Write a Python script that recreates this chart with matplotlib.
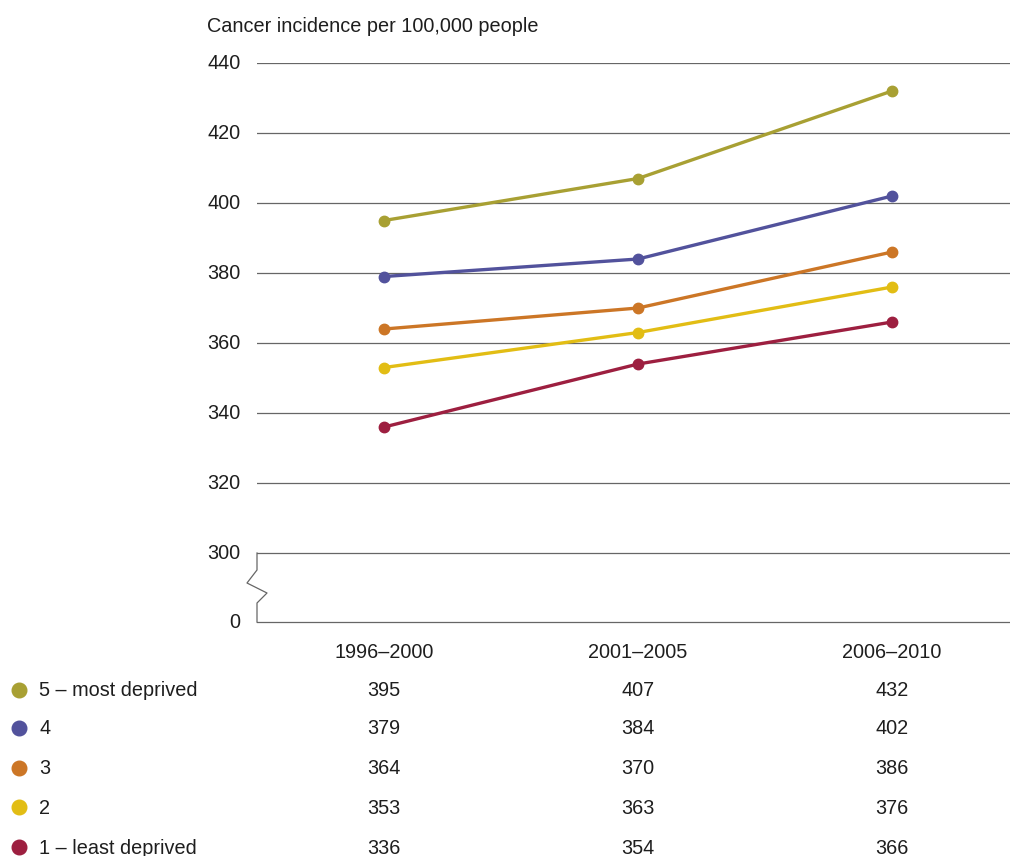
import matplotlib
matplotlib.use("Agg")
import matplotlib.pyplot as plt
from matplotlib.lines import Line2D
import matplotlib.transforms as mtransforms

plt.rcParams['font.family'] = ['Liberation Sans', 'DejaVu Sans']

periods = ["1996–2000", "2001–2005", "2006–2010"]
groups = ["5 – most deprived", "4", "3", "2", "1 – least deprived"]
colors = ["#a8a033", "#52529c", "#cc7626", "#e2bd14", "#9d1f40"]
q5 = [395, 407, 432]
q4 = [379, 384, 402]
q3 = [364, 370, 386]
q2 = [353, 363, 376]
q1 = [336, 354, 366]
series = [q5, q4, q3, q2, q1]
yticks = [300, 320, 340, 360, 380, 400, 420, 440]

ZERO_POS = 280.3  # where "0" sits on the broken axis
TEXT = "#1e1e1e"
GRID = "#666666"
FS = 14.3

fig = plt.figure(figsize=(10.1, 8.56), dpi=100)
ax = fig.add_axes([257 / 1010, 1 - 622 / 856, 1 - 257 / 1010, (622 - 63) / 856])
ax.set_xlim(-0.5, 2.4646)
ax.set_ylim(ZERO_POS, 440)

for s in ax.spines.values():
    s.set_visible(False)
ax.set_xticks([])
ax.set_yticks([])

# gridlines and baseline
for t in yticks:
    ax.axhline(t, color=GRID, lw=0.9, zorder=1)
ax.axhline(ZERO_POS, color=GRID, lw=0.9, zorder=1, clip_on=False)

# broken axis zigzag (pixels in figure coords)
px = [257, 257, 247, 267, 257, 257]
py = [553, 570, 583, 593, 603, 622]
fig.add_artist(Line2D([x / 1010 for x in px], [1 - y / 856 for y in py],
                      color=GRID, lw=0.9))

# y labels
yt = mtransforms.blended_transform_factory(ax.transAxes, ax.transData)
for t in yticks:
    ax.text(-0.022, t, str(t), transform=yt, ha="right", va="center",
            fontsize=FS, color=TEXT)
ax.text(-0.022, ZERO_POS, "0", transform=yt, ha="right", va="center",
        fontsize=FS, color=TEXT)

fig.text(207 / 1010, 1 - 26 / 856, "Cancer incidence per 100,000 people",
         ha="left", va="center", fontsize=FS, color=TEXT)

x = list(range(len(periods)))
for vals, c in zip(series, colors):
    ax.plot(x, vals, color=c, lw=2.4, marker="o", markersize=7.5, zorder=3,
            solid_capstyle="round")

# period labels and table
bt = mtransforms.blended_transform_factory(ax.transData, fig.transFigure)
for i, p in enumerate(periods):
    ax.text(i, 1 - 653 / 856, p, transform=bt, ha="center", va="center",
            fontsize=FS, color=TEXT)

row_y = [691, 729, 769, 808, 848]
for vals, g, c, ry in zip(series, groups, colors, row_y):
    fy = 1 - ry / 856
    fig.add_artist(Line2D([19 / 1010], [1 - (ry - 1) / 856], marker="o",
                          markersize=10.5, color=c, linestyle="none"))
    fig.text(39 / 1010, fy, g, ha="left", va="center", fontsize=FS, color=TEXT)
    for i, v in enumerate(vals):
        ax.text(i, fy, str(v), transform=bt, ha="center", va="center",
                fontsize=FS, color=TEXT)

fig.savefig("out.png", dpi=100)
